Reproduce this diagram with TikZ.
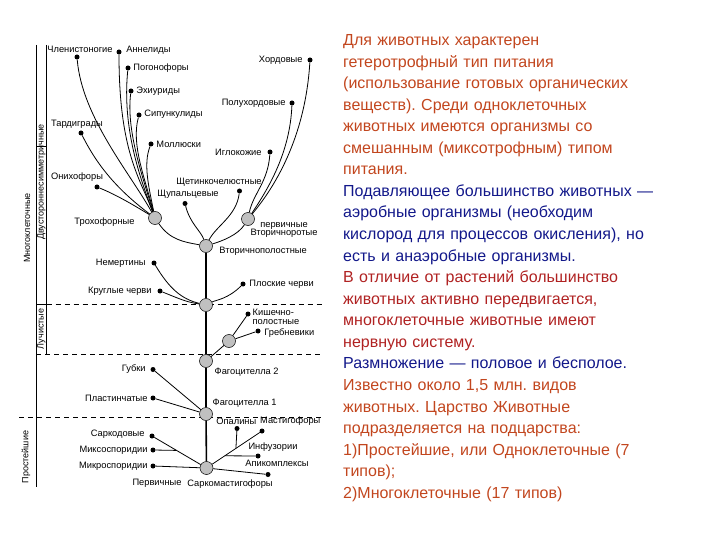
\documentclass[tikz,border=0pt]{standalone}
\usepackage{fontspec}
\setmainfont{Liberation Sans}
\usepackage{xcolor}
\definecolor{ochre}{HTML}{C2461E}
\definecolor{crim}{HTML}{B02222}
\definecolor{txtblue}{HTML}{12188A}
\definecolor{clgray}{HTML}{C0C0C0}
\usetikzlibrary{calc,positioning,backgrounds}
\frenchspacing
\tikzset{
  clade/.style={circle,draw=black,fill=clgray,line width=0.5pt,minimum size=13pt,inner sep=0pt},
  taxon/.style={circle,fill=black,minimum size=5pt,inner sep=0pt},
  lbl/.style={font=\fontsize{9.3}{8.5}\selectfont,inner sep=0.5pt,align=left},
  grp/.style={font=\fontsize{9}{9}\selectfont,rotate=90,inner sep=0pt},
  branch/.style={draw=black,line width=0.8pt},
  trunkln/.style={draw=black,line width=1.6pt},
  divline/.style={draw=black,line width=0.6pt},
  dashln/.style={draw=black,line width=0.6pt,dash pattern=on 5pt off 4pt},
  txt/.style={font=\fontsize{16}{21.56}\selectfont,inner sep=0pt,text width=375pt,align=left},
}

\begin{document}
\begin{tikzpicture}[x=1pt,y=-1pt]
\useasboundingbox (0,0) rectangle (720,540);
% group bars
\draw[divline] (36,45) -- (36,487);
\draw[divline] (46.5,45) -- (46.5,354);
\draw[divline] (36,146) -- (46.5,146);
\draw[divline] (36,304) -- (46.5,304);
\draw[dashln] (46.5,304) -- (322,304);
\draw[dashln] (36,354) -- (322,354);
\draw[dashln] (19,417) -- (322,417);
\node[grp] (mnogo) at (27,228) {Многоклеточные};
\node[grp] (prost) at (26,457) {Простейшие};
\node[grp] (dvust) at (41.5,182) {Двустороннесимметричные};
\node[grp] (luch) at (41.5,329) {Лучистые};

% branching points
\node[clade] (sark) at (206.5,468) {};
\node[clade] (fag1) at (206,414) {};
\node[clade] (fag2) at (206,361) {};
\node[clade] (prim) at (206,305) {};
\node[clade] (vtor) at (206,246) {};
\node[clade] (troh) at (155,218) {};
\node[clade] (deut) at (248,219) {};
\node[clade] (kish) at (229,341) {};

% taxa
\node[taxon] (chlen) at (77,57) {};
\node[lbl] (chlenL) at (80,49) {Членистоногие};
\node[taxon] (ann) at (119,52) {};
\node[lbl,right=4pt of ann,yshift=2pt] (annL) {Аннелиды};
\node[taxon] (pogon) at (128,68) {};
\node[lbl,right=2pt of pogon] (pogonL) {Погонофоры};
\node[taxon] (ehi) at (131,91) {};
\node[lbl,right=2pt of ehi] (ehiL) {Эхиуриды};
\node[taxon] (sip) at (139,115) {};
\node[lbl,right=2pt of sip,yshift=1pt] (sipL) {Сипункулиды};
\node[taxon] (moll) at (151,144) {};
\node[lbl,right=2pt of moll] (mollL) {Моллюски};
\node[taxon] (tard) at (81,133) {};
\node[lbl] (tardL) at (77,124) {Тардиграды};
\node[taxon] (onih) at (97,187) {};
\node[lbl] (onihL) at (77,177) {Онихофоры};
\node[taxon] (hord) at (310,60) {};
\node[lbl,left=4pt of hord] (hordL) {Хордовые};
\node[taxon] (poluh) at (292,103) {};
\node[lbl,left=3pt of poluh] (poluhL) {Полухордовые};
\node[taxon] (igl) at (270,152) {};
\node[lbl,left=5pt of igl] (iglL) {Иглокожие};
\node[taxon] (shchet) at (239.5,191) {};
\node[lbl] (shchetL) at (219,182) {Щетинкочелюстные};
\node[taxon] (shchup) at (185,203.5) {};
\node[lbl] (shchupL) at (188,194) {Щупальцевые};
\node[lbl,left=13pt of troh,yshift=-4pt] (trohL) {Трохофорные};
\node[lbl,align=center] (deutL) at (284,230) {первичные\\Вторичноротые};
\node[lbl,right=6pt of vtor,yshift=-5pt] (vtorL) {Вторичнополостные};
\node[taxon] (nemert) at (154,263) {};
\node[lbl,left=5pt of nemert] (nemertL) {Немертины};
\node[taxon] (krug) at (160,291) {};
\node[lbl,left=5pt of krug] (krugL) {Круглые черви};
\node[taxon] (plosk) at (243,284) {};
\node[lbl,right=3pt of plosk] (ploskL) {Плоские черви};
\node[taxon] (kishd) at (248,314) {};
\node[lbl,anchor=north west] (kishdL) at (252,308.5) {Кишечно-\\полостные};
\node[taxon] (grebn) at (258,331) {};
\node[lbl,right=3pt of grebn,yshift=-2pt] (grebnL) {Гребневики};
\node[lbl,anchor=west] (fag2L) at (214,372) {Фагоцителла 2};
\node[taxon] (gubki) at (153,369.5) {};
\node[lbl,left=4pt of gubki] (gubkiL) {Губки};
\node[taxon] (plast) at (153,398) {};
\node[lbl,left=2pt of plast] (plastL) {Пластинчатые};
\node[lbl,anchor=west] (fag1L) at (212,403) {Фагоцителла 1};
\node[taxon] (opal) at (237,428.5) {};
\node[lbl,anchor=east] (opalL) at (257,421.5) {Опалины};
\node[taxon] (mast) at (262,431) {};
\node[lbl,anchor=west] (mastL) at (259.5,421.5) {Мастигофоры};
\node[taxon] (infuz) at (258,456) {};
\node[lbl] (infuzL) at (273,447) {Инфузории};
\node[taxon] (apik) at (268,474.5) {};
\node[lbl] (apikL) at (277,463) {Апикомплексы};
\node[taxon] (sarkod) at (152,436) {};
\node[lbl,left=4pt of sarkod,yshift=2pt] (sarkodL) {Саркодовые};
\node[taxon] (miks) at (153,450) {};
\node[lbl,left=2pt of miks] (miksL) {Миксоспоридии};
\node[taxon] (mikr) at (153,466) {};
\node[lbl,left=2pt of mikr] (mikrL) {Микроспоридии};
\node[lbl] (pervL) at (157,483.5) {Первичные};
\node[lbl] (sarkL) at (230,484.5) {Саркомастигофоры};

% junctions on shared branches
\coordinate (miksJ) at ($(sarkod)!0.45!(sark)$);
\coordinate (opalJ) at ($(sark)!0.53!(mast)$);
\coordinate (infuzJ) at ($(sark)!0.33!(mast)$);

\begin{scope}[on background layer]
\draw[trunkln] (sark) -- (fag1) -- (fag2) -- (prim) -- (vtor);
% protists
\draw[branch] (sarkod) -- (sark);
\draw[branch] (miks) -- (miksJ);
\draw[branch] (mikr) -- (sark);
\draw[branch] (sark) -- (apik);
\draw[branch] (sark) -- (mast);
\draw[branch] (opal) -- (opalJ);
\draw[branch] (infuz) -- (infuzJ);
% lower metazoa
\draw[branch] (gubki) -- (fag1);
\draw[branch] (plast) -- (fag1);
\draw[branch] (fag2) -- (kish);
\draw[branch] (kish) -- (kishd);
\draw[branch] (kish) -- (grebn);
\draw[branch] (nemert) .. controls +(15,25) and +(-25,-6) .. (prim);
\draw[branch] (krug) .. controls +(20,8) and +(-20,-3) .. (prim);
\draw[branch] (plosk) .. controls +(-15,15) and +(10,-5) .. (prim);
% coelomates
\draw[branch] (troh) .. controls +(15,22) and +(-22,-4) .. (vtor);
\draw[branch] (deut) .. controls +(-10,16) and +(16,-5) .. (vtor);
\draw[branch] (shchup) .. controls +(5,20) and +(-5,-15) .. (vtor);
\draw[branch] (shchet) .. controls +(-3,25) and +(10,-20) .. (vtor);
\draw[branch] (chlen) .. controls +(5,60) and +(-25,-45) .. (troh);
\draw[branch] (ann) .. controls +(0,100) and +(-15,-40) .. (troh);
\draw[branch] (pogon) .. controls +(-6,60) and +(-15,-40) .. (troh);
\draw[branch] (ehi) .. controls +(-5,40) and +(-12,-40) .. (troh);
\draw[branch] (sip) .. controls +(-8,30) and +(-10,-40) .. (troh);
\draw[branch] (moll) .. controls +(-8,20) and +(-6,-30) .. (troh);
\draw[branch] (tard) .. controls +(15,30) and +(-40,-30) .. (troh);
\draw[branch] (onih) .. controls +(20,8) and +(-20,-12) .. (troh);
\draw[branch] (hord) .. controls +(-5,80) and +(25,-30) .. (deut);
\draw[branch] (poluh) .. controls +(-2,50) and +(20,-30) .. (deut);
\draw[branch] (igl) .. controls +(-2,30) and +(5,-25) .. (deut);
\end{scope}

% notes
\node[txt,anchor=north west] (notes) at (343,34.3) {\color{ochre}Для животных характерен\\
гетеротрофный тип питания\\
(использование готовых органических\\
веществ). Среди одноклеточных\\
животных имеются организмы со\\
смешанным (миксотрофным) типом\\
питания.\\
\color{txtblue}Подавляющее большинство животных —\\
аэробные организмы (необходим\\
кислород для процессов окисления), но\\
есть и анаэробные организмы.\\
\color{crim}В отличие от растений большинство\\
животных активно передвигается,\\
многоклеточные животные имеют\\
нервную систему.\\
\color{txtblue}Размножение — половое и бесполое.\\
\color{ochre}Известно около 1,5 млн. видов\\
животных. Царство Животные\\
подразделяется на подцарства:\\
1)Простейшие, или Одноклеточные (7\\
типов);\\
2)Многоклеточные (17 типов)};
\end{tikzpicture}
\end{document}
